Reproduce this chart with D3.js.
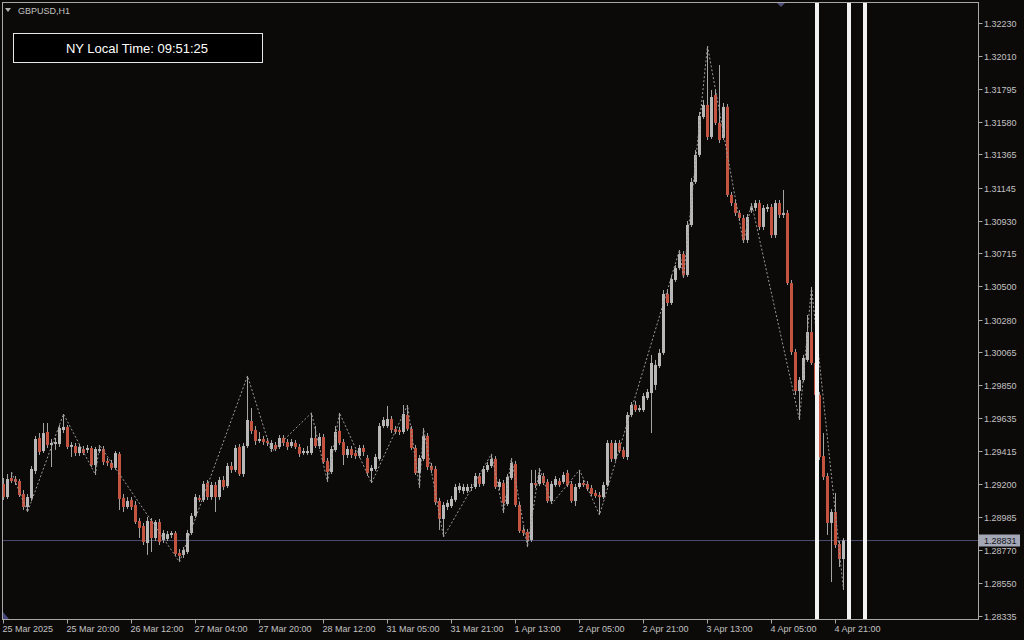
<!DOCTYPE html>
<html>
<head>
<meta charset="utf-8">
<script src="https://cdn.jsdelivr.net/npm/d3@7/dist/d3.min.js"></script>
<style>
html,body{margin:0;padding:0;background:#0c0a08;}
svg{display:block;}
</style>
</head>
<body>
<svg id="chart" width="1024" height="640"></svg>
<script>
// ---------- DATA ----------
const symbolTitle = "GBPUSD,H1";
const clockText = "NY Local Time: 09:51:25";
const currentPrice = 1.28831;

const timeLabels = ["25 Mar 2025","25 Mar 20:00","26 Mar 12:00","27 Mar 04:00","27 Mar 20:00","28 Mar 12:00","31 Mar 05:00","31 Mar 21:00","1 Apr 13:00","2 Apr 05:00","2 Apr 21:00","3 Apr 13:00","4 Apr 05:00","4 Apr 21:00"];
const timeLabelBars = [0,16,32,48,64,80,96,112,128,144,160,176,192,208];

const priceLabels = ["1.32230","1.32010","1.31795","1.31580","1.31365","1.31145","1.30930","1.30715","1.30500","1.30280","1.30065","1.29850","1.29635","1.29415","1.29200","1.28985","1.28770","1.28550","1.28335"];

// [open, high, low, close] per H1 bar
const candles = [
[1.29202,1.29241,1.29097,1.29116],[1.29116,1.29267,1.29103,1.29234],[1.29241,1.29280,1.29208,1.29221],[1.29234,1.29254,1.29195,1.29215],[1.29221,1.29234,1.29116,1.29129],
[1.29136,1.29162,1.29031,1.29051],[1.29051,1.29136,1.29018,1.29116],[1.29110,1.29320,1.29090,1.29300],[1.29287,1.29517,1.29267,1.29497],[1.29504,1.29536,1.29392,1.29412],
[1.29418,1.29602,1.29405,1.29536],[1.29543,1.29602,1.29438,1.29458],[1.29458,1.29497,1.29313,1.29471],[1.29464,1.29504,1.29425,1.29477],[1.29464,1.29589,1.29445,1.29569],
[1.29556,1.29661,1.29536,1.29576],[1.29576,1.29589,1.29431,1.29445],[1.29445,1.29477,1.29379,1.29458],[1.29451,1.29471,1.29385,1.29405],[1.29405,1.29464,1.29385,1.29445],
[1.29431,1.29451,1.29392,1.29405],[1.29425,1.29458,1.29405,1.29438],[1.29438,1.29451,1.29313,1.29326],[1.29326,1.29445,1.29261,1.29431],[1.29418,1.29458,1.29405,1.29431],
[1.29431,1.29451,1.29326,1.29346],[1.29353,1.29372,1.29320,1.29340],[1.29340,1.29359,1.29294,1.29307],[1.29307,1.29418,1.29294,1.29405],[1.29399,1.29412,1.29031,1.29103],
[1.29110,1.29136,1.29018,1.29051],[1.29051,1.29116,1.29038,1.29090],[1.29097,1.29116,1.29031,1.29051],[1.29064,1.29090,1.28939,1.28952],[1.28959,1.28978,1.28847,1.28913],
[1.28926,1.28946,1.28801,1.28821],[1.28814,1.28985,1.28736,1.28959],[1.28959,1.28978,1.28755,1.28847],[1.28847,1.28965,1.28827,1.28952],[1.28952,1.28972,1.28801,1.28821],
[1.28834,1.28900,1.28814,1.28880],[1.28841,1.28893,1.28827,1.28873],[1.28867,1.28893,1.28847,1.28880],[1.28880,1.28893,1.28729,1.28742],[1.28749,1.28775,1.28690,1.28729],
[1.28736,1.28788,1.28716,1.28768],[1.28755,1.28900,1.28742,1.28880],[1.28880,1.29011,1.28867,1.28992],[1.28992,1.29136,1.28978,1.29116],[1.29110,1.29129,1.29083,1.29097],
[1.29097,1.29221,1.29083,1.29202],[1.29208,1.29228,1.29097,1.29116],[1.29116,1.29215,1.29097,1.29195],[1.29195,1.29215,1.29018,1.29116],[1.29116,1.29248,1.29097,1.29228],
[1.29228,1.29254,1.29162,1.29182],[1.29188,1.29340,1.29175,1.29320],[1.29320,1.29346,1.29274,1.29294],[1.29294,1.29458,1.29280,1.29438],[1.29445,1.29464,1.29254,1.29267],
[1.29267,1.29471,1.29248,1.29451],[1.29451,1.29911,1.29438,1.29622],[1.29615,1.29700,1.29530,1.29550],[1.29556,1.29582,1.29458,1.29484],[1.29484,1.29543,1.29471,1.29497],
[1.29497,1.29517,1.29458,1.29477],[1.29484,1.29504,1.29451,1.29471],[1.29431,1.29490,1.29412,1.29471],[1.29458,1.29477,1.29418,1.29431],[1.29445,1.29523,1.29431,1.29504],
[1.29504,1.29523,1.29451,1.29471],[1.29477,1.29497,1.29425,1.29445],[1.29451,1.29497,1.29438,1.29477],[1.29471,1.29490,1.29431,1.29445],[1.29445,1.29464,1.29379,1.29399],
[1.29405,1.29438,1.29392,1.29418],[1.29405,1.29451,1.29392,1.29418],[1.29405,1.29668,1.29392,1.29504],[1.29504,1.29582,1.29438,1.29451],[1.29451,1.29536,1.29431,1.29510],
[1.29510,1.29530,1.29333,1.29346],[1.29353,1.29372,1.29215,1.29280],[1.29280,1.29451,1.29267,1.29431],[1.29425,1.29582,1.29412,1.29543],[1.29550,1.29668,1.29458,1.29471],
[1.29477,1.29497,1.29326,1.29392],[1.29392,1.29451,1.29372,1.29431],[1.29431,1.29451,1.29372,1.29392],[1.29405,1.29425,1.29366,1.29385],[1.29385,1.29458,1.29372,1.29438],
[1.29438,1.29458,1.29385,1.29412],[1.29372,1.29392,1.29254,1.29274],[1.29287,1.29326,1.29208,1.29307],[1.29300,1.29399,1.29287,1.29379],[1.29366,1.29602,1.29353,1.29582],
[1.29582,1.29641,1.29569,1.29622],[1.29582,1.29714,1.29569,1.29628],[1.29628,1.29648,1.29536,1.29556],[1.29563,1.29582,1.29530,1.29543],[1.29556,1.29576,1.29523,1.29543],
[1.29543,1.29720,1.29530,1.29661],[1.29655,1.29720,1.29550,1.29563],[1.29563,1.29582,1.29425,1.29438],[1.29438,1.29458,1.29261,1.29274],[1.29274,1.29392,1.29175,1.29372],
[1.29366,1.29569,1.29353,1.29517],[1.29517,1.29536,1.29294,1.29313],[1.29320,1.29340,1.29274,1.29294],[1.29300,1.29320,1.29064,1.29083],[1.29090,1.29110,1.28900,1.28972],
[1.28972,1.29083,1.28854,1.29064],[1.29051,1.29097,1.29031,1.29077],[1.29057,1.29123,1.29044,1.29103],[1.29097,1.29202,1.29083,1.29182],[1.29162,1.29208,1.29143,1.29188],
[1.29156,1.29202,1.29136,1.29182],[1.29156,1.29202,1.29143,1.29182],[1.29175,1.29202,1.29156,1.29182],[1.29182,1.29274,1.29169,1.29254],[1.29254,1.29274,1.29182,1.29202],
[1.29202,1.29320,1.29188,1.29300],[1.29294,1.29346,1.29280,1.29326],[1.29320,1.29399,1.29307,1.29366],[1.29366,1.29385,1.29169,1.29182],[1.29182,1.29234,1.29162,1.29215],
[1.29208,1.29228,1.29011,1.29077],[1.29070,1.29267,1.29057,1.29248],[1.29241,1.29372,1.29228,1.29340],[1.29333,1.29353,1.29051,1.29064],[1.29064,1.29083,1.28880,1.28893],
[1.28900,1.28919,1.28860,1.28880],[1.28887,1.28906,1.28788,1.28834],[1.28834,1.29294,1.28821,1.29208],[1.29208,1.29294,1.29175,1.29195],[1.29202,1.29307,1.29188,1.29261],
[1.29254,1.29274,1.29195,1.29208],[1.29215,1.29234,1.29077,1.29090],[1.29090,1.29221,1.29070,1.29202],[1.29195,1.29254,1.29182,1.29234],[1.29221,1.29241,1.29182,1.29195],
[1.29215,1.29280,1.29202,1.29261],[1.29274,1.29294,1.29182,1.29195],[1.29202,1.29221,1.29077,1.29090],[1.29090,1.29202,1.29057,1.29182],[1.29182,1.29294,1.29169,1.29208],
[1.29208,1.29228,1.29182,1.29195],[1.29202,1.29221,1.29156,1.29169],[1.29175,1.29195,1.29123,1.29136],[1.29143,1.29162,1.29110,1.29123],[1.29129,1.29149,1.28998,1.29116],
[1.29116,1.29215,1.29103,1.29195],[1.29195,1.29490,1.29182,1.29471],[1.29471,1.29490,1.29346,1.29366],[1.29366,1.29490,1.29353,1.29471],[1.29471,1.29490,1.29405,1.29418],
[1.29425,1.29445,1.29366,1.29379],[1.29379,1.29674,1.29359,1.29655],[1.29655,1.29740,1.29641,1.29720],[1.29720,1.29747,1.29674,1.29687],[1.29687,1.29720,1.29674,1.29700],
[1.29687,1.29799,1.29674,1.29779],[1.29766,1.29825,1.29753,1.29806],[1.29799,1.30049,1.29536,1.29996],[1.29852,1.30016,1.29819,1.29983],[1.29976,1.30088,1.29963,1.30062],
[1.30062,1.30475,1.30049,1.30449],[1.30449,1.30475,1.30370,1.30390],[1.30390,1.30574,1.30377,1.30547],[1.30541,1.30639,1.30528,1.30620],[1.30620,1.30738,1.30607,1.30712],
[1.30712,1.30731,1.30554,1.30574],[1.30574,1.30928,1.30561,1.30902],[1.30902,1.31211,1.30889,1.31184],[1.31184,1.31394,1.31171,1.31362],[1.31362,1.31644,1.31348,1.31618],
[1.31611,1.31723,1.31598,1.31690],[1.31690,1.32077,1.31460,1.31480],[1.31480,1.31788,1.31467,1.31742],[1.31755,1.31788,1.31558,1.31572],[1.31572,1.31952,1.31440,1.31460],
[1.31473,1.31703,1.31460,1.31677],[1.31677,1.31696,1.31086,1.31099],[1.31099,1.31119,1.31027,1.31046],[1.31046,1.31066,1.30961,1.30981],[1.30981,1.31000,1.30928,1.30948],
[1.30948,1.30968,1.30784,1.30803],[1.30803,1.30974,1.30784,1.30954],[1.31000,1.31046,1.30981,1.31014],[1.31014,1.31066,1.30994,1.31046],[1.31046,1.31066,1.30869,1.30889],
[1.30889,1.31033,1.30869,1.31014],[1.31007,1.31040,1.30987,1.31020],[1.31020,1.31040,1.30817,1.30836],[1.30836,1.31066,1.30817,1.31046],[1.31046,1.31066,1.30948,1.30968],
[1.30968,1.31132,1.30948,1.30981],[1.30981,1.31000,1.30508,1.30521],[1.30521,1.30541,1.30049,1.30068],[1.30068,1.30088,1.29786,1.29812],[1.29812,1.29904,1.29622,1.29884],
[1.29884,1.30049,1.29871,1.30029],[1.30016,1.30311,1.30003,1.30199],[1.30199,1.30495,1.29983,1.29996],[1.29996,1.30016,1.29773,1.29786],[1.29786,1.29806,1.29359,1.29379],
[1.29385,1.29536,1.29228,1.29248],[1.29254,1.29274,1.28867,1.28946],[1.28946,1.29037,1.28558,1.29018],[1.29018,1.29143,1.28782,1.28801],[1.28808,1.28827,1.28657,1.28709],
[1.28709,1.28847,1.28506,1.28831]
];

// ZigZag swing points: [bar index, price]
const zigzag = [[2,1.29280],[6,1.29018],[15,1.29661],[23,1.29261],[24,1.29458],[44,1.28690],[61,1.29911],[67,1.29412],[77,1.29668],[81,1.29215],[84,1.29668],[92,1.29208],[101,1.29720],[104,1.29175],[105,1.29569],[110,1.28854],[122,1.29399],[125,1.29011],[127,1.29372],[131,1.28788],[134,1.29307],[137,1.29070],[144,1.29294],[149,1.28998],[169,1.30738],[170,1.30554],[176,1.32077],[185,1.30784],[187,1.31046],[199,1.29622],[202,1.30495],[210,1.28506]];

// vertical session markers (bar positions)
const markerBars = [203.5, 211.5, 215.5];
const shiftMarkerBar = 194.5;

// ---------- DRAW ----------
const W = 1024, H = 640;
const plot = {left: 2, top: 2, right: 978, bottom: 619};
const svg = d3.select("#chart");

const x = d3.scaleLinear().domain([0, 16]).range([3, 67]);
const y = d3.scaleLinear().domain([1.28335, 1.32230]).range([616, 22.7]);

const bg = "#0c0a08", axisCol = "#a8a8a8", textCol = "#c2c2c2";
const upCol = "#b8b8b8", downCol = "#c4533f", wickCol = "#a4a4a4";
const font2 = "'Liberation Sans', Arial, sans-serif";

svg.append("rect").attr("width", W).attr("height", H).attr("fill", bg);

svg.append("defs").append("clipPath").attr("id", "clip")
  .append("rect").attr("x", plot.left).attr("y", plot.top)
  .attr("width", plot.right - plot.left).attr("height", plot.bottom - plot.top);

const g = svg.append("g").attr("clip-path", "url(#clip)");

// current price line
const cy = Math.round(y(currentPrice)) + 0.5;
g.append("line")
  .attr("x1", plot.left).attr("x2", plot.right)
  .attr("y1", cy).attr("y2", cy)
  .attr("stroke", "#4a4a6c").attr("stroke-width", 1);

// wicks
g.selectAll("line.wick").data(candles).join("line").attr("class", "wick")
  .attr("x1", (d, i) => Math.round(x(i)) + 0.5).attr("x2", (d, i) => Math.round(x(i)) + 0.5)
  .attr("y1", d => y(d[1])).attr("y2", d => y(d[2]))
  .attr("stroke", wickCol).attr("stroke-width", 1);

// bodies
g.selectAll("rect.body").data(candles).join("rect").attr("class", "body")
  .attr("x", (d, i) => Math.round(x(i)) - 1)
  .attr("width", 3)
  .attr("y", d => y(Math.max(d[0], d[3])))
  .attr("height", d => Math.max(1, Math.abs(y(d[0]) - y(d[3]))))
  .attr("fill", d => d[3] >= d[0] ? upCol : downCol);

// zigzag
const zz = d3.line().x(d => Math.round(x(d[0])) + 0.5).y(d => y(d[1]));
g.append("path").attr("d", zz(zigzag))
  .attr("fill", "none").attr("stroke", "#9a9a9a").attr("stroke-width", 1)
  .attr("stroke-dasharray", "2,2");

// vertical markers
g.selectAll("line.marker").data(markerBars).join("line").attr("class", "marker")
  .attr("x1", d => x(d)).attr("x2", d => x(d))
  .attr("y1", plot.top).attr("y2", plot.bottom)
  .attr("stroke", "#f2f2f2").attr("stroke-width", 4);

// shift marker triangle at top
const sx = x(shiftMarkerBar);
svg.append("path").attr("d", `M${sx-5},2 L${sx+5},2 L${sx},7 Z`).attr("fill", "#4c4c78");

// bottom-left small triangle
svg.append("path").attr("d", "M3,612 L3,619 L9,619 Z").attr("fill", "#45457a");

// frame
svg.append("rect").attr("x", plot.left + 0.5).attr("y", plot.top + 0.5)
  .attr("width", plot.right - plot.left).attr("height", plot.bottom - plot.top)
  .attr("fill", "none").attr("stroke", axisCol).attr("stroke-width", 1);

// right axis
const ra = svg.append("g");
priceLabels.forEach(lbl => {
  const yy = Math.round(y(+lbl)) + 0.5;
  ra.append("line").attr("x1", plot.right + 0.5).attr("x2", plot.right + 4.5)
    .attr("y1", yy).attr("y2", yy).attr("stroke", axisCol);
  ra.append("text").attr("x", 984).attr("y", yy).attr("dy", "0.35em")
    .attr("fill", textCol).attr("font-family", font2)
    .attr("font-size", 9).text(lbl);
});

// current price tag
svg.append("rect").attr("x", 979).attr("y", cy - 6).attr("width", 41).attr("height", 12).attr("fill", "#a3a7b6");
svg.append("text").attr("x", 984).attr("y", cy).attr("dy", "0.35em")
  .attr("fill", "#15151a").attr("font-family", font2)
  .attr("font-size", 9).text(currentPrice.toFixed(5));

// bottom axis
const ba = svg.append("g");
timeLabelBars.forEach((b, k) => {
  const xx = Math.round(x(b)) + 0.5;
  ba.append("line").attr("x1", xx).attr("x2", xx)
    .attr("y1", plot.bottom + 0.5).attr("y2", plot.bottom + 4.5).attr("stroke", axisCol);
  ba.append("text").attr("x", xx - 1).attr("y", 632)
    .attr("fill", textCol).attr("font-family", font2)
    .attr("font-size", 9).text(timeLabels[k]);
});

// title
svg.append("path").attr("d", "M5,8 L11,8 L8,12 Z").attr("fill", "#b0b0b0");
svg.append("text").attr("x", 18).attr("y", 13.5).attr("fill", textCol)
  .attr("font-family", font2).attr("font-size", 9).text(symbolTitle);

// clock box
svg.append("rect").attr("x", 13.5).attr("y", 33.5).attr("width", 249).attr("height", 29)
  .attr("fill", "#000").attr("stroke", "#e8e8e8").attr("stroke-width", 1);
svg.append("text").attr("x", 137).attr("y", 48).attr("dy", "0.35em").attr("text-anchor", "middle")
  .attr("fill", "#ffffff").attr("font-family", font2)
  .attr("font-size", 13).text(clockText);
</script>
</body>
</html>
